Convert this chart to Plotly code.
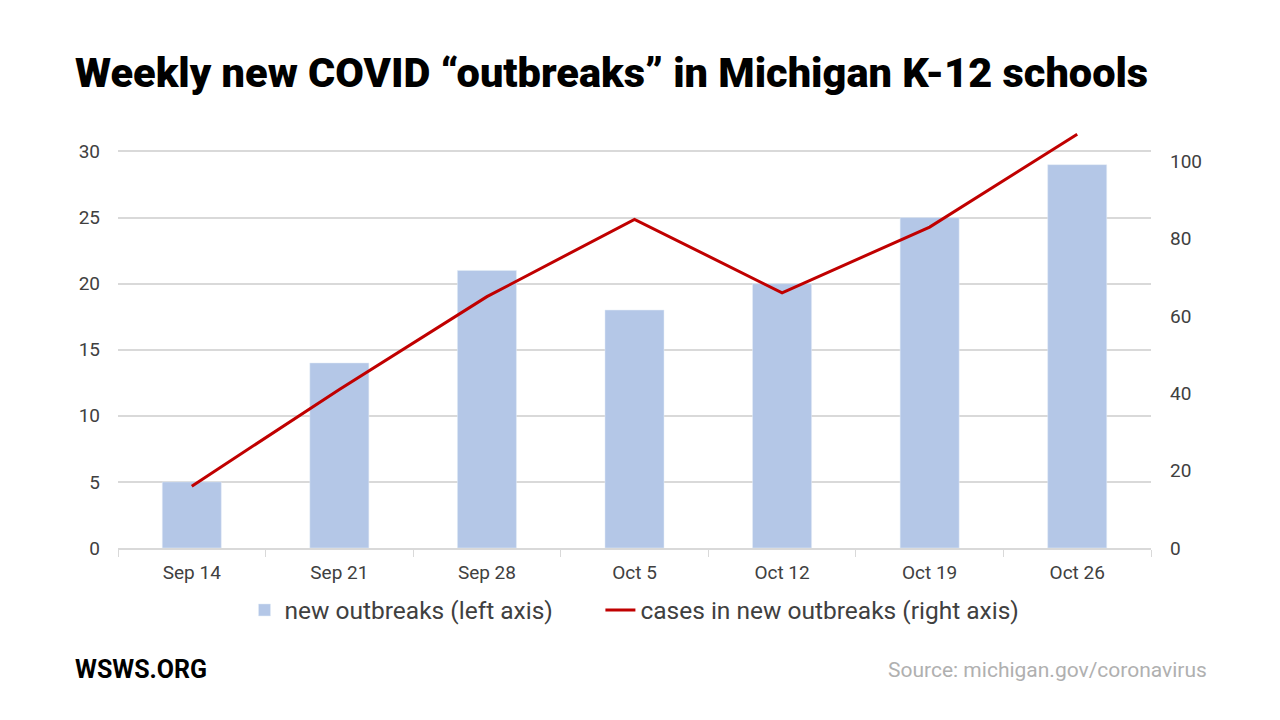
# Weekly new COVID "outbreaks" in Michigan K-12 schools

import plotly.graph_objects as go

# Data
weeks = ['Sep 14', 'Sep 21', 'Sep 28', 'Oct 5', 'Oct 12', 'Oct 19', 'Oct 26']
new_outbreaks = [5, 14, 21, 18, 20, 25, 29]
outbreak_cases = [16, 41, 65, 85, 66, 83, 107]
left_ticks = [0, 5, 10, 15, 20, 25, 30]
right_ticks = [0, 20, 40, 60, 80, 100]

W, H = 1280, 720
OFF = 8  # page body margin shifts the figure by 8px
PLOT_L, PLOT_R, PLOT_T, PLOT_B = 118 - OFF, 1151 - OFF, 125 - OFF, 548 - OFF
plot_w = PLOT_R - PLOT_L
plot_h = PLOT_B - PLOT_T


def px_x(x):
    return (x - OFF - PLOT_L) / plot_w


def px_y(y):
    return (PLOT_B - (y - OFF)) / plot_h


tick_font = dict(family='Roboto', size=19, color='#404040')

fig = go.Figure()

fig.add_trace(go.Bar(
    x=weeks,
    y=new_outbreaks,
    name='new outbreaks (left axis)' + '\u00a0' * 7,  # pad gap between legend items
    marker_color='#b4c7e7',
    width=0.4,
    yaxis='y',
))

fig.add_trace(go.Scatter(
    x=weeks,
    y=outbreak_cases,
    name='cases in new outbreaks (right axis)',
    mode='lines',
    line=dict(color='#c00000', width=3),
    yaxis='y2',
))

fig.update_layout(
    width=W,
    height=H,
    margin=dict(l=PLOT_L, r=W - PLOT_R, t=PLOT_T, b=H - PLOT_B, autoexpand=False),
    plot_bgcolor='white',
    paper_bgcolor='white',
    title=dict(
        text='Weekly new COVID \u201coutbreaks\u201d in Michigan K-12 schools',
        font=dict(family='Roboto', size=41.5, color='black', weight=900),
        x=(75 - OFF) / W, xanchor='left', xref='container',
        y=1 - (72 - OFF) / H, yanchor='middle', yref='container',
    ),
    xaxis=dict(
        type='category',
        tickson='boundaries',
        ticks='outside',
        ticklen=7,
        tickcolor='#d9d9d9',
        showline=True,
        linecolor='#d9d9d9',
        linewidth=1.5,
        showgrid=False,
        tickfont=tick_font,
        ticklabelstandoff=6,
    ),
    yaxis=dict(
        range=[0, 32],
        tickvals=left_ticks,
        showgrid=True,
        gridcolor='#d9d9d9',
        gridwidth=1.5,
        zeroline=False,
        tickfont=tick_font,
        ticks='',
        ticklabelstandoff=17,
    ),
    yaxis2=dict(
        range=[0, 109.4],
        tickvals=right_ticks,
        overlaying='y',
        side='right',
        showgrid=False,
        zeroline=False,
        tickfont=tick_font,
        ticks='',
        ticklabelstandoff=18,
    ),
    legend=dict(
        orientation='h',
        x=0.5, xanchor='center',
        y=px_y(610), yanchor='middle',
        font=dict(family='Roboto', size=24.5, color='#404040'),
        itemwidth=30,
        traceorder='normal',
    ),
    showlegend=True,
)

fig.add_annotation(
    text='<b>WSWS.ORG</b>',
    xref='paper', yref='paper',
    x=px_x(73), y=px_y(669),
    xanchor='left', yanchor='middle',
    showarrow=False,
    font=dict(family='Roboto', size=25, color='black'),
)

fig.add_annotation(
    text='Source: michigan.gov/coronavirus',
    xref='paper', yref='paper',
    x=px_x(1209), y=px_y(670),
    xanchor='right', yanchor='middle',
    showarrow=False,
    font=dict(family='Roboto', size=21, color='#b0b0b0'),
)

fig.write_html('out.html')
